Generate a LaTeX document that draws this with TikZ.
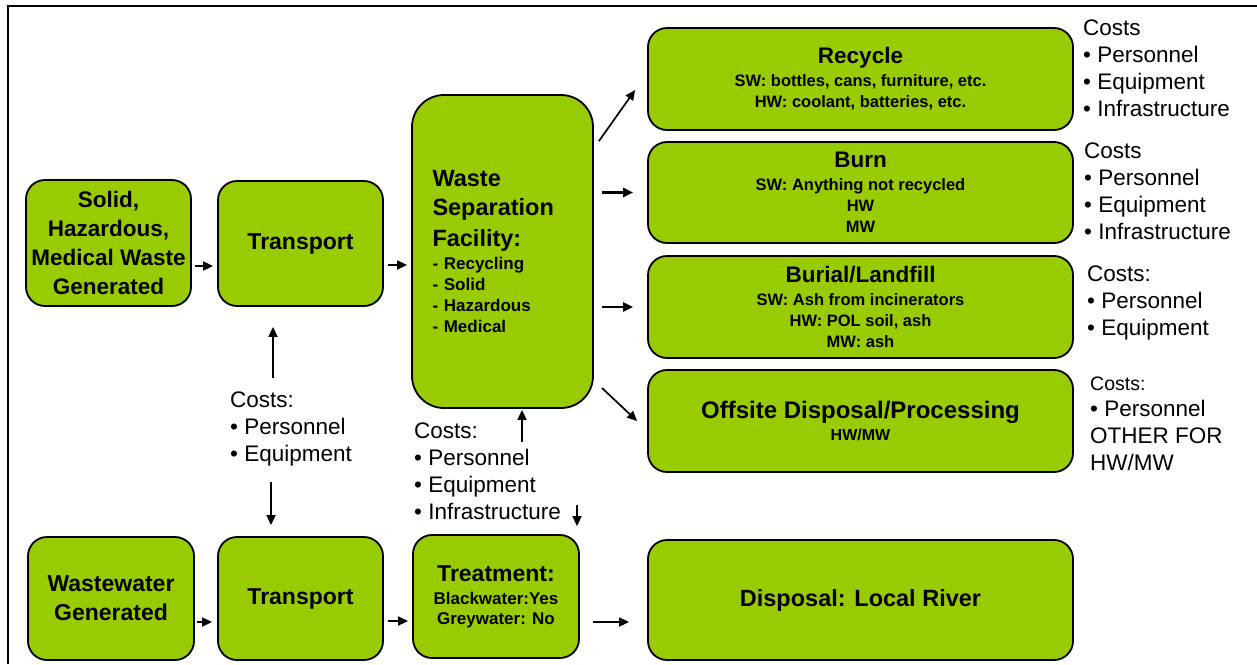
\documentclass[tikz,border=0pt]{standalone}
\usepackage{fontspec}
\setmainfont{Liberation Sans}
\usetikzlibrary{arrows.meta,calc}
\definecolor{boxgreen}{RGB}{153,204,0}
\newcommand{\myfs}[2]{\fontsize{#1}{#2}\selectfont}
\begin{document}
\begin{tikzpicture}[x=1pt,y=-1pt,
  box/.style={draw=black, line width=1.8pt, fill=boxgreen, rounded corners=19pt,
    inner sep=0pt, align=center, font=\bfseries\myfs{23}{29}},
  sidebox/.style={box, minimum width=425pt, font=\bfseries\myfs{16.5}{21}},
  costs/.style={anchor=north west, inner sep=0pt, align=left, font=\myfs{22.5}{27}},
  arr/.style={-{Triangle[length=10pt,width=9pt]}, line width=1.7pt},
  thickarr/.style={arr, line width=2.6pt}]
\useasboundingbox (0,0) rectangle (1257,664);
\draw[line width=1.5pt] (1257,6) -- (8,6) -- (8,664);

% boxes, upper row
\node[box, minimum width=165pt, minimum height=126pt, font=\bfseries\myfs{22.5}{29}] (solid) at (108.5,243)
  {Solid,\\Hazardous,\\Medical Waste\\Generated};
\node[box, minimum width=165pt, minimum height=125pt] (tr1) at (300.5,243.5) {Transport};
\node[box, minimum width=181pt, minimum height=313pt, rounded corners=32pt,
  text width=140pt, align=left, font=\bfseries\myfs{17}{21}] (wsf) at (502.5,251.5)
  {{\myfs{23.5}{0}Waste}\\[8.5pt]{\myfs{23.5}{0}Separation}\\[8.5pt]{\myfs{23.5}{0}Facility:}\\[2pt]- Recycling\\- Solid\\- Hazardous\\- Medical};

% outcome boxes
\node[sidebox, minimum height=102pt] (rec) at (860.5,79)
  {{\myfs{22.5}{0}Recycle}\\[2pt]SW: bottles, cans, furniture, etc.\\HW: coolant, batteries, etc.};
\node[sidebox, minimum height=101pt] (burn) at (860.5,192.5)
  {{\myfs{22.5}{0}Burn}\\[2pt]SW: Anything not recycled\\HW\\MW};
\node[sidebox, minimum height=102pt] (bur) at (860.5,307)
  {{\myfs{22.5}{0}Burial/Landfill}\\[2pt]SW: Ash from incinerators\\HW: POL soil, ash\\MW: ash};
\node[sidebox, minimum height=102pt, font=\bfseries\myfs{16}{21}] (off) at (860.5,421)
  {{\myfs{24}{0}Offsite Disposal/Processing}\\[1pt]HW/MW};

% lower row
\node[box, minimum width=166pt, minimum height=123pt] (ww) at (111,598.5) {Wastewater\\Generated};
\node[box, minimum width=165pt, minimum height=123pt] (tr2) at (300.5,598.5) {Transport};
\node[box, minimum width=166pt, minimum height=123pt, font=\bfseries\myfs{17}{20}] (treat) at (496,596.5)
  {{\myfs{23}{0}Treatment:}\\[3pt]Blackwater:Yes\\Greywater: No};
\node[sidebox, minimum height=120pt, font=\bfseries\myfs{23.5}{29}] (disp) at (860.5,600) {Disposal: Local River};

% cost texts
\node[costs] (cA) at (230,391.5) {Costs:\\• Personnel\\• Equipment};
\node[costs] (cB) at (414,422.5) {Costs:\\• Personnel\\• Equipment\\• Infrastructure};
\node[costs] (cR) at (1083,19.5) {Costs\\• Personnel\\• Equipment\\• Infrastructure};
\node[costs] (cBu) at (1084,142.5) {Costs\\• Personnel\\• Equipment\\• Infrastructure};
\node[costs] (cL) at (1087,265.5) {Costs:\\• Personnel\\• Equipment};
\node[costs] (cO) at (1090,376.6) {{\myfs{19.5}{0}Costs:}\\[-1pt]• Personnel\\OTHER FOR\\HW/MW};

% arrow helper coordinates
\coordinate (y1) at (0,266);
\coordinate (y2) at (0,265);
\coordinate (y3) at (0,622);
\coordinate (y4) at (0,621);
\coordinate (ua) at (273,378);
\coordinate (da) at (271,482);
\coordinate (ub) at (522,442);
\coordinate (db) at (577,505);

% connectors
\draw[arr, shorten <=3pt, shorten >=4pt] (solid.east |- y1) -- (tr1.west |- y1);
\draw[arr, shorten <=4pt, shorten >=4pt] (tr1.east |- y2) -- (wsf.west |- y2);
\draw[arr] ($(wsf.north east)+(5,47)$) -- ($(rec.west)+(-12,11)$);
\draw[thickarr, shorten <=8pt, shorten >=14pt] (wsf.east |- burn.west) -- (burn.west);
\draw[thickarr, shorten <=8pt, shorten >=14pt] (wsf.east |- bur.west) -- (bur.west);
\draw[arr] ($(wsf.south east)+(8,-21)$) -- ($(off.west)+(-10,0)$);
\draw[arr, shorten >=20pt] (ua) -- (ua |- tr1.south);
\draw[arr, shorten >=11pt] (da) -- (da |- tr2.north);
\draw[arr, shorten >=1pt] (ub) -- (ub |- wsf.south);
\draw[arr, shorten >=8pt] (db) -- (db |- treat.north);
\draw[arr, shorten <=2pt, shorten >=5pt] (ww.east |- y3) -- (tr2.west |- y3);
\draw[arr, shorten <=4pt, shorten >=4pt] (tr2.east |- y4) -- (treat.west |- y4);
\draw[arr, shorten <=13pt, shorten >=18pt] (treat.east |- y3) -- (disp.west |- y3);
\end{tikzpicture}
\end{document}
